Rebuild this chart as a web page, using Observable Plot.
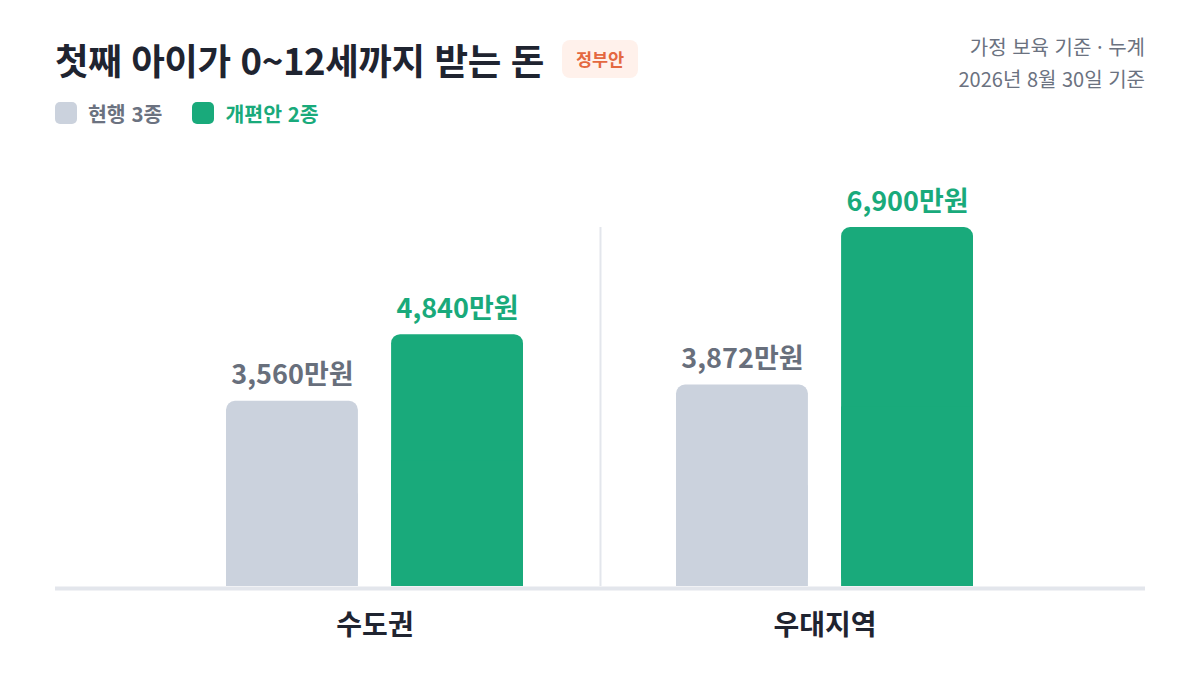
<!DOCTYPE html>
<html lang="ko">
<head>
<meta charset="utf-8">
<script src="https://cdn.jsdelivr.net/npm/d3@7"></script>
<script src="https://cdn.jsdelivr.net/npm/@observablehq/plot@0.6"></script>
<style>
  html, body { margin: 0; padding: 0; background: #ffffff; }
  body { width: 1200px; height: 674px; position: relative; overflow: hidden;
         font-family: "Noto Sans CJK KR", "Noto Sans", sans-serif; }
  #title { position: absolute; left: 55px; top: 35px; height: 48px; font-size: 36.5px; font-weight: 700;
           color: #1f2430; letter-spacing: -0.4px; white-space: nowrap; display: flex; align-items: center; }
  #badge { margin-left: 18px; font-size: 17.5px; font-weight: 700; color: #e4683f; background: #fff1eb;
           border-radius: 8px; padding: 0 14px; height: 38px; line-height: 38px; letter-spacing: 0; }
  #legend { position: absolute; left: 55px; top: 100px; height: 26px; display: flex; align-items: center;
            font-size: 20.5px; font-weight: 700; }
  .item { display: flex; align-items: center; margin-right: 30px; }
  .sw { width: 22px; height: 22px; border-radius: 5px; margin-right: 11px; }
  #meta { position: absolute; right: 55px; top: 31px; text-align: right; font-size: 20px;
          color: #6b7280; line-height: 32px; }
  #chart { position: absolute; left: 0; top: 140px; }
</style>
</head>
<body>
<div id="title"><span id="titleText"></span><span id="badge"></span></div>
<div id="legend"></div>
<div id="meta"></div>
<div id="chart"></div>
<script>
const titleText = "첫째 아이가 0~12세까지 받는 돈";
const badgeText = "정부안";
const metaLines = ["가정 보육 기준 · 누계", "2026년 8월 30일 기준"];
const regions = ["수도권", "우대지역"];
const seriesNames = ["현행 3종", "개편안 2종"];
const currentValues = [3560, 3872];   // 현행 3종 (만원)
const reformValues = [4840, 6900];    // 개편안 2종 (만원)
const barColors = ["#cbd2dd", "#19aa7b"];
const labelColors = ["#686f7c", "#19aa7b"];

document.getElementById("titleText").textContent = titleText;
document.getElementById("badge").textContent = badgeText;
document.getElementById("meta").innerHTML = metaLines.map(s => `<div>${s}</div>`).join("");
document.getElementById("legend").innerHTML = seriesNames.map((s, i) =>
  `<div class="item"><div class="sw" style="background:${barColors[i]}"></div><span style="color:${i ? labelColors[1] : "#6b7280"}">${s}</span></div>`).join("");

const rows = [];
regions.forEach((r, i) => {
  rows.push({region: r, series: seriesNames[0], value: currentValues[i], idx: 0});
  rows.push({region: r, series: seriesNames[1], value: reformValues[i], idx: 1});
});
const cur = rows.filter(d => d.idx === 0);
const ref = rows.filter(d => d.idx === 1);
const maxV = d3.max(rows, d => d.value);
const fmt = d => d3.format(",")(d.value) + "만원";

const W = 1200, H = 534, mL = 55, mR = 55;
const step = (W - mL - mR) / (2 - 0.339 + 2 * 0.378);
const bw = step * (1 - 0.339);
const barW = 133;
const inset = bw - barW;
const off = (bw - barW) / 2;

const plot = Plot.plot({
  width: W, height: H,
  marginLeft: mL, marginRight: mR, marginTop: 87, marginBottom: 88,
  style: {fontFamily: "'Noto Sans CJK KR', 'Noto Sans', sans-serif", background: "transparent"},
  x: {domain: regions, paddingInner: 0.339, paddingOuter: 0.378, label: null},
  y: {domain: [0, maxV], axis: null},
  marks: [
    Plot.ruleX([regions[0]], {x: d => d, dx: step / 2, y1: 0, y2: maxV, stroke: "#e3e6ec", strokeWidth: 2}),
    Plot.barY(cur, {x: "region", y: "value", fill: barColors[0], insetRight: inset, rx: 9}),
    Plot.barY(cur, {x: "region", y1: 0, y2: d => d.value / 2, fill: barColors[0], insetRight: inset}),
    Plot.barY(ref, {x: "region", y: "value", fill: barColors[1], insetLeft: inset, rx: 9}),
    Plot.barY(ref, {x: "region", y1: 0, y2: d => d.value / 2, fill: barColors[1], insetLeft: inset}),
    Plot.ruleY([0], {stroke: "#e3e6ec", strokeWidth: 4, dy: 2}),
    Plot.text(cur, {x: "region", y: "value", text: fmt, dx: -off, dy: -17, lineAnchor: "bottom",
      fill: labelColors[0], fontSize: 27, fontWeight: 700}),
    Plot.text(ref, {x: "region", y: "value", text: fmt, dx: off, dy: -17, lineAnchor: "bottom",
      fill: labelColors[1], fontSize: 27, fontWeight: 700}),
    Plot.axisX({tickSize: 0, tickPadding: 29, fontSize: 28, fontWeight: 700, fill: "#1f2430", label: null})
  ]
});
document.getElementById("chart").appendChild(plot);
</script>
</body>
</html>
